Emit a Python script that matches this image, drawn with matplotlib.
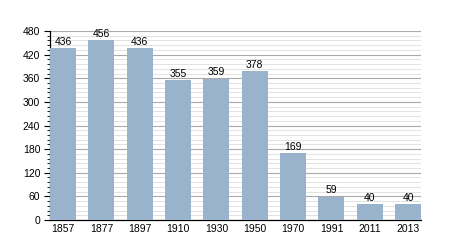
import matplotlib
matplotlib.use('Agg')
import matplotlib.pyplot as plt
from matplotlib.ticker import MultipleLocator

plt.rcParams['font.family'] = ['Liberation Sans', 'DejaVu Sans']

years = ['1857', '1877', '1897', '1910', '1930', '1950', '1970', '1991', '2011', '2013']
population = [436, 456, 436, 355, 359, 378, 169, 59, 40, 40]

fig = plt.figure(figsize=(4.5, 2.5), dpi=100)
ax = fig.add_axes([0.111, 0.12, 0.825, 0.756])

w = 0.68
x = range(len(years))
ax.bar(x, population, width=w, color='#9ab3cd', zorder=3)
for i, v in zip(x, population):
    ax.text(i, v + 4, str(v), ha='center', va='bottom', fontsize=7.5, zorder=4)

ax.set_xlim(-w / 2, len(years) - 1 + w / 2)
ax.set_ylim(0, 480)
ax.yaxis.set_major_locator(MultipleLocator(60))
ax.yaxis.set_minor_locator(MultipleLocator(12))
ax.grid(axis='y', which='major', color='#aaaaaa', linewidth=0.8, zorder=1)
ax.grid(axis='y', which='minor', color='#dddddd', linewidth=0.6, zorder=1)

ax.set_xticks(list(x))
ax.set_xticklabels(years)
ax.tick_params(axis='x', length=0, labelsize=7.5, pad=3)
ax.tick_params(axis='y', which='major', length=4, width=0.8, labelsize=7.5, pad=3)
ax.tick_params(axis='y', which='minor', length=2, width=0.6)

for s in ['top', 'right']:
    ax.spines[s].set_visible(False)
ax.spines['left'].set_linewidth(0.9)
ax.spines['bottom'].set_linewidth(0.9)

fig.savefig('out.png', dpi=100)
